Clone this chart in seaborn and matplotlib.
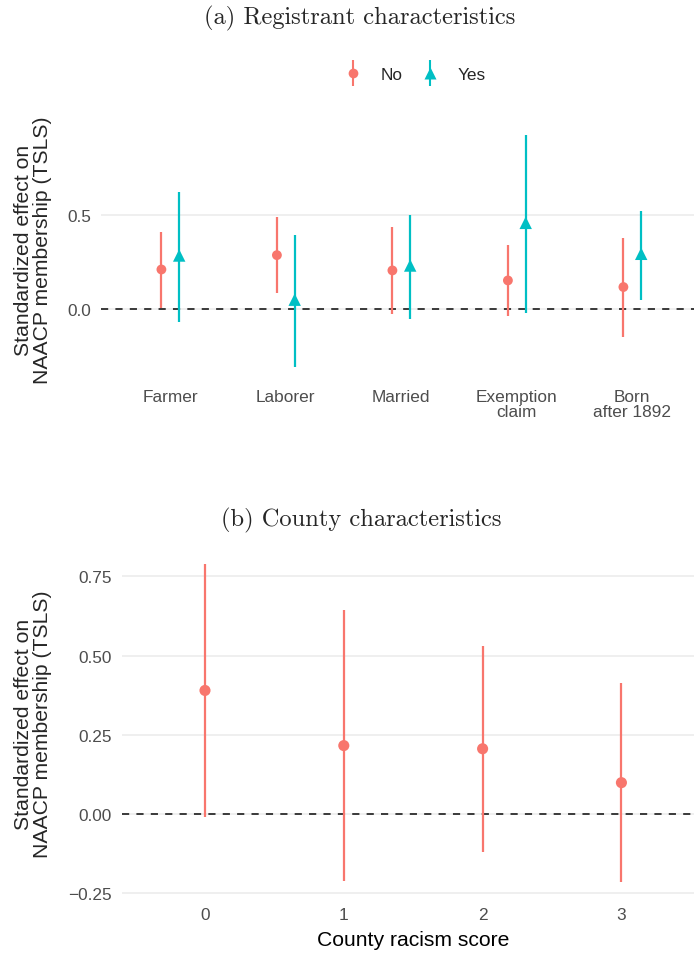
import numpy as np
import pandas as pd
import matplotlib
matplotlib.use("Agg")
import matplotlib.pyplot as plt
import seaborn as sns
from matplotlib.lines import Line2D
from matplotlib.legend_handler import HandlerTuple

# ---------------- data ----------------
categories = ["Farmer", "Laborer", "Married", "Exemption\nclaim", "Born\nafter 1892"]
groups = ["No", "Yes"]
est_no = [0.209, 0.285, 0.204, 0.151, 0.116]
lo_no = [0.007, 0.085, -0.025, -0.035, -0.148]
hi_no = [0.410, 0.486, 0.435, 0.340, 0.378]
est_yes = [0.283, 0.049, 0.230, 0.456, 0.292]
lo_yes = [-0.071, -0.305, -0.051, -0.020, 0.049]
hi_yes = [0.620, 0.390, 0.495, 0.923, 0.521]

racism_score = [0, 1, 2, 3]
est_county = [0.390, 0.216, 0.206, 0.099]
lo_county = [-0.010, -0.211, -0.120, -0.216]
hi_county = [0.789, 0.645, 0.531, 0.414]

top_yticks = [0.0, 0.5]
top_yticklabels = ["0.0", "0.5"]
bot_yticks = [-0.25, 0.0, 0.25, 0.50, 0.75]
bot_yticklabels = ["\u22120.25", "0.00", "0.25", "0.50", "0.75"]

# ---------------- style ----------------
sns.set_theme(style="white")
plt.rcParams["font.family"] = ["Liberation Sans", "DejaVu Sans"]

RED = "#F8766D"
TEAL = "#00BFC4"
GRID = "#EBEBEB"
TICKC = "#4D4D4D"
TICK_FS = 12.4
LAB_FS = 15.2

W, H = 694, 954
fig = plt.figure(figsize=(W / 100, H / 100), dpi=100)


def px_axes(left, top, right, bottom):
    return fig.add_axes([left / W, 1 - bottom / H, (right - left) / W, (bottom - top) / H])


def style_axes(ax, yticks, ylabels):
    for s in ax.spines.values():
        s.set_visible(False)
    ax.set_yticks(yticks)
    ax.set_yticklabels(ylabels)
    ax.tick_params(axis="both", length=0, labelsize=TICK_FS, labelcolor=TICKC)
    ax.tick_params(axis="y", pad=7.2)
    ax.grid(False)
    for yv in yticks:
        ax.axhline(yv, color=GRID, lw=1.1, zorder=0)
    ax.axhline(0, color="#3A3A3A", lw=1.4, ls=(0, (3.7, 3.7)), zorder=1)
    ax.set_ylabel("")
    ax.set_xlabel("")


def ylim_from(lo, hi):
    a, b = min(lo), max(hi)
    pad = 0.05 * (b - a)
    return a - pad, b + pad


YLAB = "Standardized effect on\nNAACP membership (TSLS)"

# ---------------- panel (a) ----------------
ax1 = px_axes(101, 124.1, 701.6, 379.1)
n = len(categories)
idx = np.arange(n)
dodge = 0.077
df_a = pd.DataFrame({
    "x": np.concatenate([idx - dodge, idx + dodge]),
    "est": est_no + est_yes,
    "lo": lo_no + lo_yes,
    "hi": hi_no + hi_yes,
    "group": [groups[0]] * n + [groups[1]] * n,
})
pal = {"No": RED, "Yes": TEAL}
for g in groups:
    d = df_a[df_a["group"] == g]
    ax1.vlines(d["x"], d["lo"], d["hi"], colors=pal[g], lw=1.6, zorder=2)
sizes = {"No": 50, "Yes": 80}
for g, mk in [("No", "o"), ("Yes", "^")]:
    d = df_a[df_a["group"] == g]
    sns.scatterplot(data=d, x="x", y="est", color=pal[g], marker=mk, s=sizes[g],
                    edgecolor="none", ax=ax1, legend=False, zorder=3)
ax1.set_xlim(-0.6, n - 1 + 0.6)
ax1.set_ylim(*ylim_from(lo_no + lo_yes, hi_no + hi_yes))
ax1.set_xticks(idx)
ax1.set_xticklabels(categories, linespacing=1.0)
style_axes(ax1, top_yticks, top_yticklabels)
ax1.tick_params(axis="x", pad=8)

fig.text(33 / W, 1 - 250 / H, YLAB, rotation=90, fontsize=LAB_FS, ha="center",
         va="center", multialignment="center", linespacing=1.0)
fig.text(360 / W, 1 - 18 / H, "(a) Registrant characteristics", family="cmr10",
         fontsize=17.6, ha="center", va="center")

# legend
h_no = (Line2D([], [], ls="", marker="|", ms=18.4, mew=1.5, color=RED),
        Line2D([], [], ls="", marker="o", ms=7.0, color=RED, mec="none"))
h_yes = (Line2D([], [], ls="", marker="|", ms=18.4, mew=1.5, color=TEAL),
         Line2D([], [], ls="", marker="^", ms=9.0, color=TEAL, mec="none"))
fig.legend([h_no, h_yes], groups, handler_map={tuple: HandlerTuple(ndivide=1, pad=0)},
           loc="center", bbox_to_anchor=(414 / W, 1 - 75 / H), ncol=2, frameon=False,
           fontsize=TICK_FS, handlelength=1.2, handletextpad=1.0, columnspacing=1.0)

# ---------------- panel (b) ----------------
ax2 = px_axes(121.7, 549.1, 704.7, 899.4)
df_b = pd.DataFrame({"score": racism_score, "est": est_county,
                     "lo": lo_county, "hi": hi_county})
ax2.vlines(df_b["score"], df_b["lo"], df_b["hi"], colors=RED, lw=1.6, zorder=2)
sns.scatterplot(data=df_b, x="score", y="est", color=RED, s=64, edgecolor="none",
                ax=ax2, zorder=3)
ax2.set_xlim(-0.6, len(racism_score) - 1 + 0.6)
ax2.set_ylim(*ylim_from(lo_county, hi_county))
ax2.set_xticks(racism_score)
ax2.set_xticklabels([str(v) for v in racism_score])
style_axes(ax2, bot_yticks, bot_yticklabels)
ax2.tick_params(axis="x", pad=6)
ax2.set_xlabel("County racism score", fontsize=LAB_FS, color="black", labelpad=6)

fig.text(33 / W, 1 - 724 / H, YLAB, rotation=90, fontsize=LAB_FS, ha="center",
         va="center", multialignment="center", linespacing=1.0)
fig.text(361 / W, 1 - 520 / H, "(b) County characteristics", family="cmr10",
         fontsize=17.6, ha="center", va="center")

fig.savefig("out.png", dpi=100)
